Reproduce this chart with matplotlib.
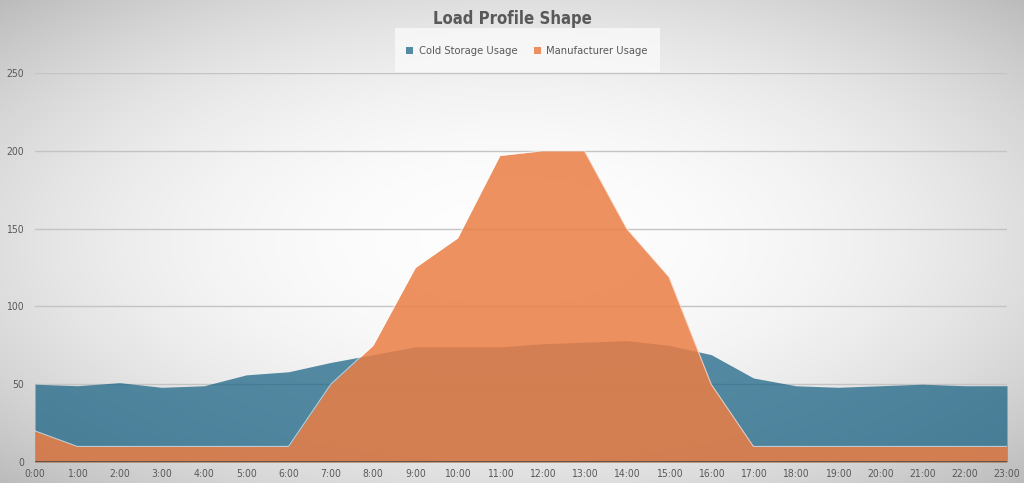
import numpy as np
import matplotlib
matplotlib.use("Agg")
import matplotlib.pyplot as plt
from matplotlib.patches import Rectangle, Patch

# data
hours = list(range(24))
hour_labels = [f"{h}:00" for h in hours]
cold_storage = [50, 49, 51, 48, 49, 56, 58, 64, 69, 74, 74, 74, 76, 77, 78, 75,
                69, 54, 49, 48, 49, 50, 49, 49]
manufacturer = [20, 10, 10, 10, 10, 10, 10, 50, 75, 125, 144, 197, 200, 200, 150, 119,
                50, 10, 10, 10, 10, 10, 10, 10]
y_ticks = [0, 50, 100, 150, 200, 250]

BLUE = "#156082"
ORANGE = "#EB7E45"
TEXT = "#595959"

plt.rcParams['font.family'] = ['DejaVu Sans']
plt.rcParams['font.stretch'] = 'condensed'

fig = plt.figure(figsize=(10.24, 4.83), dpi=100)

# radial grey background
bg = fig.add_axes([0, 0, 1, 1], zorder=-10)
xx, yy = np.meshgrid(np.linspace(-1, 1, 512), np.linspace(-1, 1, 256))
r = np.sqrt(xx ** 2 + yy ** 2) / np.sqrt(2)
shade = 0.995 - 0.26 * np.clip(r, 0, 1) ** 2.2
bg.imshow(np.dstack([shade] * 3), aspect='auto', extent=[0, 1, 0, 1])
bg.axis('off')

ax = fig.add_axes([35 / 1024, 1 - 462 / 483, 972 / 1024, 389 / 483])
ax.patch.set_alpha(0)

ax.fill_between(hours, cold_storage, 0, color=BLUE, alpha=0.72, lw=0, zorder=2)
ax.fill_between(hours, manufacturer, 0, color=ORANGE, alpha=0.85, lw=0, zorder=3)
ax.plot(hours, manufacturer, color='white', lw=0.8, alpha=0.6, zorder=4)
ax.axhline(0, color='#5c4c44', lw=2, zorder=5)

ax.set_xlim(0, 23)
ax.set_ylim(0, 250)
ax.set_yticks(y_ticks)
ax.set_xticks(hours)
ax.set_xticklabels(hour_labels)
ax.yaxis.grid(True, color='#c4c4c4', lw=1, zorder=1)
ax.set_axisbelow(True)
for s in ax.spines.values():
    s.set_visible(False)
ax.tick_params(length=0, labelsize=7.5, colors=TEXT)
ax.tick_params(axis='x', pad=5)
ax.tick_params(axis='y', pad=8)

# title and legend
fig.text(0.5, 1 - 19 / 483, "Load Profile Shape", ha='center', va='center',
         fontsize=12, fontweight='bold', color=TEXT)
fig.patches.append(Rectangle((395 / 1024, 1 - 72 / 483), 265 / 1024, 44 / 483,
                             transform=fig.transFigure, facecolor='#fafafa',
                             edgecolor='none', alpha=0.8, zorder=1))
handles = [Patch(facecolor=BLUE, alpha=0.72, label="Cold Storage Usage"),
           Patch(facecolor=ORANGE, alpha=0.85, label="Manufacturer Usage")]
fig.legend(handles=handles, loc='center', bbox_to_anchor=(527 / 1024, 1 - 51 / 483),
           ncol=2, frameon=False, fontsize=8, labelcolor=TEXT, handlelength=0.6,
           handleheight=0.6, handletextpad=0.5, columnspacing=1.5)

fig.savefig("out.png", dpi=100)
